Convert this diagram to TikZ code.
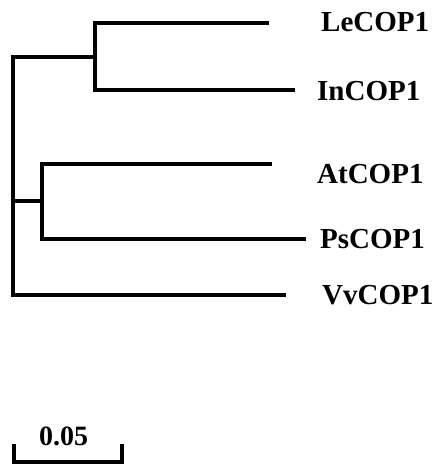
\documentclass[tikz,border=0pt]{standalone}
\usepackage{fontspec}
\setmainfont{Liberation Serif}
\begin{document}
\begin{tikzpicture}[x=1bp,y=-1bp,
  branch/.style={line width=4bp,line join=miter,line cap=butt},
  leaflabel/.style={anchor=base west,inner sep=0pt,font=\fontsize{29bp}{32bp}\selectfont\bfseries},
  scalelabel/.style={anchor=base west,inner sep=0pt,font=\fontsize{28bp}{31bp}\selectfont\bfseries}]
\useasboundingbox (0,0) rectangle (434,464);
% internal nodes
\coordinate (root) at (12.5,176);
\coordinate (rtop) at (12.5,57);
\coordinate (rbot) at (12.5,295);
\coordinate (c1) at (95,57);
\coordinate (c1t) at (95,23);
\coordinate (c1b) at (95,90);
\coordinate (r2) at (12.5,201.5);
\coordinate (c2) at (42,201.5);
\coordinate (c2t) at (42,164.5);
\coordinate (c2b) at (42,238.5);
% tips
\coordinate (le) at (269,23);
\coordinate (in) at (295,90);
\coordinate (at) at (272,164.5);
\coordinate (ps) at (306,238.5);
\coordinate (vv) at (286,295);
% labels
\node[leaflabel] (lLe) at (321,32) {LeCOP1};
\node[leaflabel] (lIn) at (317,101) {InCOP1};
\node[leaflabel] (lAt) at (317,184) {AtCOP1};
\node[leaflabel] (lPs) at (320,248) {PsCOP1};
\node[leaflabel] (lVv) at (322,304) {VvCOP1};
% branches
\draw[branch] (c1) -- (rtop) -- (rbot) -- (vv);
\draw[branch] (le) -- (c1t) -- (c1b) -- (in);
\draw[branch] (r2) -- (c2);
\draw[branch] (at) -- (c2t) -- (c2b) -- (ps);
% scale bar
\coordinate (s1) at (14,444);
\coordinate (s2) at (14,462);
\coordinate (s3) at (122,462);
\coordinate (s4) at (122,444);
\draw[branch] (s1) -- (s2) -- (s3) -- (s4);
\node[scalelabel] (sl) at (39,445) {0.05};
\end{tikzpicture}
\end{document}
